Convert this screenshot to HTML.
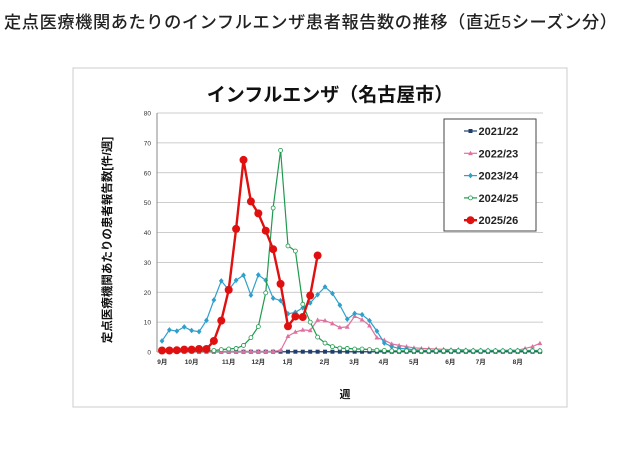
<!DOCTYPE html>
<html><head><meta charset="utf-8"><style>
body{margin:0;background:#fff;width:640px;height:451px;overflow:hidden;font-family:"Liberation Sans","Noto Sans CJK JP",sans-serif}
#t{position:absolute;left:4px;top:8px;font-size:17.2px;color:#222;white-space:nowrap;letter-spacing:0.6px;font-weight:500}
</style></head><body>
<div id="t">定点医療機関あたりのインフルエンザ患者報告数の推移（直近5シーズン分）</div>
<svg id="s" width="640" height="451" style="position:absolute;left:0;top:0" font-family="Liberation Sans, Noto Sans CJK JP, sans-serif"></svg>
<script>
const s=document.getElementById('s');let h='';
h+='<rect x="73" y="68" width="494" height="339" fill="none" stroke="#ccc" stroke-width="1"/>';
h+='<text x="330" y="101" text-anchor="middle" font-size="19" font-weight="bold" fill="#111">インフルエンザ（名古屋市）</text>';
const y0=352,ky=239/80,x0=162,dx=7.41;
const X=i=>x0+i*dx,Y=v=>y0-v*ky;
for(let v=0;v<=80;v+=10){h+=`<line x1="157" x2="543" y1="${Y(v)}" y2="${Y(v)}" stroke="#bbb" stroke-width="${v==0?1.2:0.8}"/>`;
h+=`<text x="151" y="${Y(v)+2.5}" text-anchor="end" font-size="6.5" fill="#333">${v}</text>`;}
h+='<line x1="157" x2="157" y1="113" y2="352" stroke="#888"/>';
const m=[[277,'9月'],[365,'10月'],[476,'11月'],[565,'12月'],[653,'1月'],[764,'2月'],[853,'3月'],[941,'4月'],[1032,'5月'],[1141,'6月'],[1232,'7月'],[1343,'8月']];
m.forEach(a=>h+=`<text x="${70+a[0]/3}" y="364" text-anchor="middle" font-size="6.5" font-weight="bold" fill="#333">${a[1]}</text>`);
h+='<text x="345" y="398" text-anchor="middle" font-size="11" font-weight="bold" fill="#111">週</text>';
h+='<text transform="translate(111,240) rotate(-90)" text-anchor="middle" font-size="11.5" font-weight="bold" fill="#111">定点医療機関あたりの患者報告数[件/週]</text>';
function fill(a,n,v){while(a.length<n)a.push(v);return a}
const d21=fill([],52,0.1);
const d22=fill(fill([],16,0.2).concat([0.5,5.3,6.7,7.4,7.2,10.7,10.5,9.5,8.2,8.4,12,10.8,8.8,4.8,4,2.7,2.2,1.8,1.4,1.2,1.1,1,0.9,0.8,0.8,0.7,0.6,0.6,0.5,0.5,0.5,0.6]),49,0.6).concat([1.2,1.8,2.9]);
const d23=fill([3.7,7.4,7,8.4,7.2,6.8,10.6,17.4,23.8,20.8,24,25.7,19,25.8,24,18,17.2,12.8,13.3,14.8,16.4,19.2,21.8,19.6,15.7,11,12.9,12.5,10.5,7,3,1.8,1.2,1,0.8,0.6],52,0.5);
const d24=fill([0.2,0.2,0.2,0.2,0.2,0.2,0.3,0.5,0.8,1,1.2,2.2,4.8,8.5,19.8,48.2,67.5,35.5,33.8,16,10,5,3,1.8,1.3,1.2,1,1,0.8,0.6,0.5],52,0.4);
const d25=[0.5,0.5,0.6,0.8,0.8,1,1,3.7,10.5,20.8,41.2,64.3,50.4,46.4,40.6,34.4,22.8,8.6,11.9,11.7,18.9,32.3];
function line(d,c,w){return `<polyline fill="none" stroke="${c}" stroke-width="${w}" points="${d.map((v,i)=>X(i).toFixed(1)+','+Y(v).toFixed(1)).join(' ')}"/>`}
function mk(t,x,y,c){
 if(t=='sq')return `<rect x="${x-2}" y="${y-2}" width="4" height="4" fill="${c}"/>`;
 if(t=='tri')return `<polygon points="${x},${y-2.6} ${x-2.4},${y+1.8} ${x+2.4},${y+1.8}" fill="${c}"/>`;
 if(t=='dia')return `<polygon points="${x},${y-2.8} ${x+2.4},${y} ${x},${y+2.8} ${x-2.4},${y}" fill="${c}"/>`;
 if(t=='oc')return `<circle cx="${x}" cy="${y}" r="2" fill="#fff" stroke="${c}" stroke-width="0.8"/>`;
 return `<circle cx="${x}" cy="${y}" r="4" fill="${c}"/>`;}
const S=[[d21,'#1f3f6e',1.2,'sq'],[d22,'#e0719e',1.2,'tri'],[d23,'#2fa0cc',1.2,'dia'],[d24,'#1f9a4e',1.2,'oc'],[d25,'#e01010',2.4,'c']];
S.forEach(a=>{h+=line(a[0],a[1],a[2]);a[0].forEach((v,i)=>h+=mk(a[3],X(i),Y(v),a[1]));});
h+='<rect x="444" y="119" width="92" height="112" fill="#fff" stroke="#444" stroke-width="1"/>';
const L=['2021/22','2022/23','2023/24','2024/25','2025/26'];
L.forEach((n,i)=>{const y=131+i*22.3,a=S[i];h+=`<line x1="464" x2="477" y1="${y}" y2="${y}" stroke="${a[1]}" stroke-width="${a[2]}"/>`+mk(a[3],470.5,y,a[1]);
h+=`<text x="478.5" y="${y+4}" font-size="11" font-weight="bold" fill="#222">${n}</text>`;});
s.innerHTML=h;
</script>
</body></html>
